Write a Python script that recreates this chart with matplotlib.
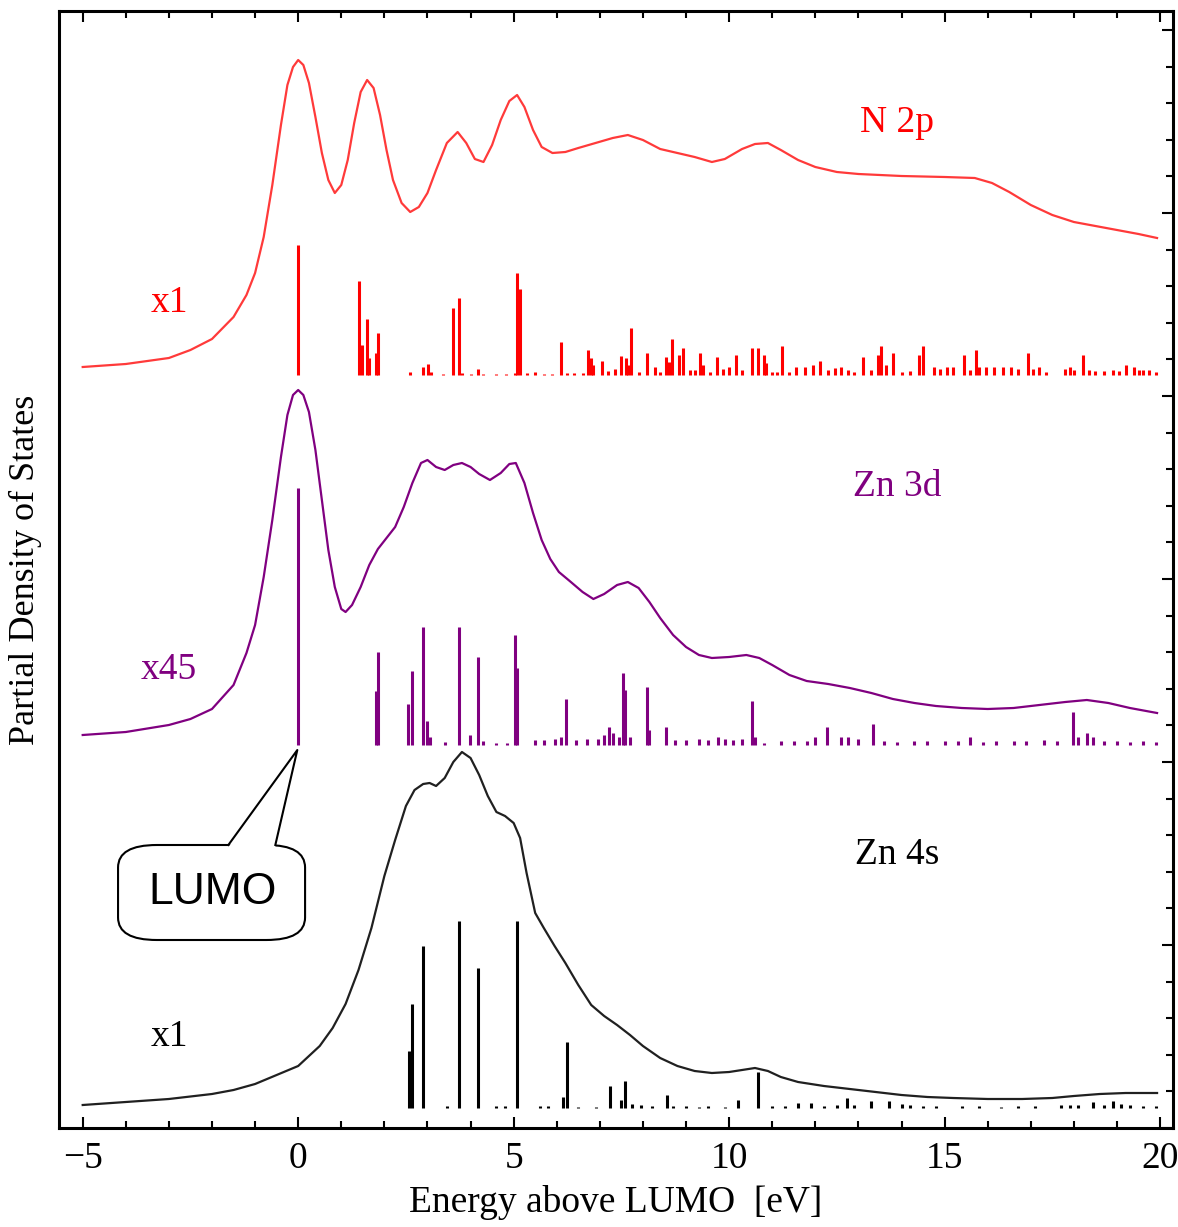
import numpy as np
import matplotlib
matplotlib.use("Agg")
import matplotlib.pyplot as plt
from matplotlib.patches import FancyBboxPatch, Polygon
from matplotlib.ticker import MultipleLocator

# ---- broadened PDOS curves (energy in eV, height above each panel's baseline) ----
n2p_E = [-5.0, -4.0, -3.0, -2.5, -2.0, -1.5, -1.2, -1.0, -0.8, -0.6, -0.4, -0.25,
         -0.12, 0.0, 0.12, 0.25, 0.4, 0.55, 0.7, 0.85, 1.0, 1.15, 1.3, 1.45, 1.6,
         1.75, 1.9, 2.05, 2.2, 2.4, 2.6, 2.8, 3.0, 3.2, 3.45, 3.7, 3.9, 4.1, 4.3,
         4.5, 4.7, 4.9, 5.08, 5.25, 5.45, 5.65, 5.9, 6.2, 6.5, 6.9, 7.3, 7.65, 8.0,
         8.4, 8.8, 9.2, 9.6, 9.9, 10.3, 10.6, 10.9, 11.2, 11.6, 12.0, 12.5, 13.0,
         14.0, 15.0, 15.7, 16.1, 16.5, 17.0, 17.5, 18.0, 18.5, 19.0, 19.5, 19.93]
n2p_y = [8, 11, 17, 25, 36, 58, 80, 102, 138, 190, 250, 290,
         308, 315, 310, 292, 258, 222, 195, 182, 190, 215, 252, 283, 295,
         287, 260, 225, 195, 172, 163, 168, 182, 205, 232, 243, 232, 216, 213,
         230, 255, 274, 280, 268, 245, 228, 222, 223, 227, 232, 237, 240, 235,
         226, 222, 218, 213, 216, 226, 231, 232, 225, 215, 208, 203, 201,
         199, 198, 197, 192, 183, 170, 160, 153, 149, 145, 141, 137]

zn3d_E = [-5.0, -4.0, -3.0, -2.5, -2.0, -1.5, -1.2, -1.0, -0.8, -0.6, -0.4, -0.25,
          -0.12, 0.0, 0.12, 0.25, 0.4, 0.55, 0.7, 0.85, 1.0, 1.1, 1.25, 1.45, 1.65,
          1.85, 2.05, 2.25, 2.45, 2.65, 2.85, 3.0, 3.2, 3.4, 3.6, 3.8, 4.0, 4.2,
          4.45, 4.7, 4.9, 5.05, 5.25, 5.45, 5.65, 5.85, 6.05, 6.3, 6.6, 6.85, 7.1,
          7.4, 7.65, 7.9, 8.15, 8.4, 8.7, 9.0, 9.3, 9.6, 10.0, 10.4, 10.7, 11.0,
          11.4, 11.8, 12.3, 12.8, 13.3, 13.8, 14.3, 14.8, 15.4, 16.0, 16.6, 17.2,
          17.8, 18.3, 18.8, 19.3, 19.93]
zn3d_y = [10, 13, 20, 26, 36, 60, 92, 120, 168, 225, 288, 330,
          350, 355, 350, 333, 295, 245, 195, 158, 136, 133, 140, 158, 180,
          196, 207, 218, 238, 262, 282, 285, 278, 275, 280, 282, 278, 271,
          265, 272, 281, 282, 262, 232, 205, 186, 173, 164, 153, 146, 151,
          160, 163, 157, 143, 127, 110, 98, 90, 87, 88, 90, 87, 80,
          70, 64, 61, 57, 52, 46, 42, 39, 37, 36, 37, 40,
          43, 45, 42, 37, 32]

zn4s_E = [-5.0, -4.0, -3.0, -2.0, -1.5, -1.0, -0.5, 0.0, 0.5, 0.8, 1.1, 1.4, 1.7,
          2.0, 2.25, 2.5, 2.7, 2.9, 3.05, 3.2, 3.4, 3.6, 3.8, 4.0, 4.2, 4.4, 4.6,
          4.8, 5.0, 5.15, 5.3, 5.5, 5.7, 5.95, 6.2, 6.5, 6.8, 7.1, 7.4, 7.7, 8.0,
          8.4, 8.8, 9.2, 9.6, 10.0, 10.3, 10.6, 10.9, 11.2, 11.6, 12.2, 12.8, 13.4,
          14.0, 14.6, 15.2, 16.0, 16.8, 17.5, 18.0, 18.6, 19.2, 19.93]
zn4s_y = [3, 6, 9, 14, 18, 24, 33, 42, 62, 80, 104, 138, 180,
          232, 268, 302, 318, 324, 325, 322, 330, 346, 356, 350, 333, 312, 296,
          292, 285, 270, 235, 195, 180, 162, 145, 123, 103, 92, 83, 73, 62,
          50, 42, 37, 35, 36, 38, 40, 37, 31, 26, 22, 19, 16,
          13, 11, 10, 9, 9, 10, 12, 14, 15, 15]

# ---- stick spectra (orbital energies and weights) ----
n2p_stick_E = [0.0, 1.42, 1.49, 1.6, 1.65, 1.81, 1.86, 2.6, 2.9, 3.02, 3.08, 3.36,
               3.6, 3.74, 3.8, 4.0, 4.18, 4.3, 4.6, 4.83, 5.03, 5.08, 5.15, 5.3, 5.5,
               5.7, 5.9, 6.1, 6.24, 6.4, 6.6, 6.73, 6.8, 6.85, 7.05, 7.2, 7.35, 7.5,
               7.6, 7.66, 7.73, 7.9, 8.1, 8.28, 8.4, 8.53, 8.6, 8.68, 8.84, 8.94,
               9.1, 9.2, 9.32, 9.4, 9.55, 9.71, 9.85, 10.0, 10.15, 10.3, 10.53, 10.66,
               10.8, 10.85, 11.0, 11.1, 11.23, 11.4, 11.55, 11.75, 11.95, 12.1, 12.3,
               12.45, 12.6, 12.75, 12.9, 13.1, 13.3, 13.45, 13.53, 13.65, 13.8, 14.0,
               14.2, 14.4, 14.51, 14.75, 14.9, 15.05, 15.2, 15.46, 15.6, 15.72, 15.8,
               15.95, 16.15, 16.35, 16.55, 16.7, 16.94, 17.05, 17.2, 17.35, 17.8,
               17.9, 18.0, 18.22, 18.35, 18.5, 18.7, 18.9, 19.05, 19.2, 19.4, 19.5,
               19.6, 19.75, 19.9]
n2p_stick_h = [130, 94, 30, 56, 17, 22, 42, 3, 8, 11, 3, 1,
               67, 77, 2, 1, 6, 1, 1, 1, 2, 102, 86, 2, 3,
               1, 1, 33, 2, 2, 2, 25, 17, 10, 14, 4, 6, 19,
               17, 10, 47, 3, 22, 8, 3, 18, 13, 36, 20, 27,
               5, 5, 22, 10, 3, 18, 6, 8, 20, 5, 27, 27,
               20, 12, 3, 3, 29, 3, 8, 8, 10, 14, 5,
               7, 8, 5, 3, 18, 5, 20, 29, 10, 22, 3,
               4, 20, 29, 8, 6, 8, 8, 20, 5, 25, 8,
               8, 8, 8, 8, 6, 22, 6, 8, 3, 6,
               8, 5, 20, 5, 4, 4, 5, 4, 10, 8, 5,
               5, 5, 3]

zn3d_stick_E = [0.0, 1.81, 1.86, 2.55, 2.64, 2.89, 3.0, 3.05, 3.4, 3.74, 3.99, 4.18,
                4.3, 4.6, 4.85, 5.04, 5.08, 5.5, 5.7, 5.95, 6.1, 6.22, 6.45, 6.7,
                6.95, 7.1, 7.22, 7.3, 7.45, 7.53, 7.59, 7.7, 8.09, 8.15, 8.54, 8.75,
                9.0, 9.3, 9.5, 9.75, 9.9, 10.1, 10.3, 10.53, 10.6, 10.8, 11.2, 11.5,
                11.8, 12.0, 12.27, 12.6, 12.75, 13.0, 13.34, 13.6, 13.9, 14.3, 14.6,
                15.0, 15.3, 15.6, 15.9, 16.2, 16.6, 16.9, 17.3, 17.6, 17.98, 18.1,
                18.3, 18.45, 18.7, 19.0, 19.3, 19.6, 19.9]
zn3d_stick_h = [257, 54, 93, 41, 74, 118, 24, 8, 3, 118, 10, 88,
                4, 2, 2, 110, 77, 5, 5, 6, 8, 46, 5, 6,
                6, 10, 18, 12, 8, 72, 55, 8, 58, 15, 18, 5,
                5, 6, 5, 8, 6, 5, 6, 44, 8, 2, 4, 4,
                4, 8, 18, 8, 8, 6, 21, 4, 3, 4, 4,
                4, 4, 8, 3, 4, 4, 4, 5, 4, 33, 8,
                12, 8, 4, 4, 3, 4, 3]

zn4s_stick_E = [2.58, 2.64, 2.89, 3.45, 3.74, 4.18, 4.6, 4.8, 5.07, 5.6, 5.8, 6.15,
                6.23, 6.5, 6.9, 7.24, 7.5, 7.59, 7.75, 7.95, 8.2, 8.55, 8.7, 9.0,
                9.3, 9.5, 9.9, 10.2, 10.66, 11.0, 11.3, 11.6, 11.9, 12.2, 12.5,
                12.73, 12.9, 13.3, 13.7, 14.0, 14.2, 14.5, 14.8, 15.4, 15.8, 16.3,
                16.7, 17.1, 17.7, 17.9, 18.1, 18.45, 18.7, 18.9, 19.1, 19.3, 19.6, 19.9]
zn4s_stick_h = [57, 104, 162, 2, 187, 140, 2, 2, 187, 2, 2, 11,
                66, 1, 1, 22, 8, 27, 4, 3, 2, 13, 2, 2,
                1, 2, 1, 8, 36, 2, 2, 5, 5, 2, 3,
                10, 3, 7, 7, 4, 3, 2, 2, 2, 2, 1,
                2, 2, 3, 3, 3, 6, 3, 7, 4, 3, 2, 2]

# layout: baselines in the axes' vertical units (1 unit ~ 1 pixel)
base_n2p, base_zn3d, base_zn4s = 753, 383, 20
red, purple, black = "#ff0000", "#800080", "#000000"

plt.rcParams["font.family"] = ["Liberation Serif", "DejaVu Serif"]

fig = plt.figure(figsize=(11.78, 12.27), dpi=100)
ax = fig.add_axes([59 / 1178, 99 / 1227, 1114 / 1178, 1117 / 1227])

series = [
    (n2p_E, n2p_y, n2p_stick_E, n2p_stick_h, base_n2p, "#ff3a3a", red),
    (zn3d_E, zn3d_y, zn3d_stick_E, zn3d_stick_h, base_zn3d, purple, purple),
    (zn4s_E, zn4s_y, zn4s_stick_E, zn4s_stick_h, base_zn4s, "#202020", black),
]
for cE, cy, sE, sh, base, ccol, scol in series:
    ax.plot(cE, np.array(cy) + base, color=ccol, lw=1.6, solid_joinstyle="round")
    ax.vlines(sE, base, np.array(sh) + base, color=scol, lw=2.2)

# panel labels
lab_kw = dict(fontsize=27, ha="center", va="center")
ax.text(13.9, 1005, "N 2p", color=red, **lab_kw)
ax.text(-3.0, 825, "x1", color=red, **lab_kw)
ax.text(13.9, 641, "Zn 3d", color=purple, **lab_kw)
ax.text(-3.0, 458, "x45", color=purple, **lab_kw)
ax.text(13.9, 273, "Zn 4s", color=black, **lab_kw)
ax.text(-3.0, 91, "x1", color=black, **lab_kw)

# LUMO callout
box = FancyBboxPatch((-4.18, 188), 4.34, 95, boxstyle="round,pad=0,rounding_size=0.9",
                     mutation_aspect=25, fc="white", ec="black", lw=1.5, zorder=5)
ax.add_patch(box)
ax.add_patch(Polygon([(-1.62, 281), (-0.02, 378), (-0.53, 281)], closed=True,
                     fc="white", ec="none", zorder=6))
ax.plot([-1.62, -0.02, -0.53], [283, 378, 283], color="black", lw=1.5, zorder=7)
ax.text(-1.98, 236, "LUMO", fontsize=32, family=["Liberation Sans", "DejaVu Sans"],
        ha="center", va="center", zorder=8)

ax.set_xlim(-5.55, 20.3)
ax.set_ylim(0, 1117)
ax.xaxis.set_major_locator(MultipleLocator(5))
ax.xaxis.set_minor_locator(MultipleLocator(1))
ax.yaxis.set_major_locator(MultipleLocator(183))
ax.yaxis.set_minor_locator(MultipleLocator(36.6))
ax.tick_params(which="both", direction="in", top=True, right=True, left=False,
               labelleft=False, width=1.5)
ax.tick_params(which="major", length=8, labelsize=27, pad=10)
ax.tick_params(which="minor", length=5)
ax.set_xticks([-5, 0, 5, 10, 15, 20])
ax.set_xticklabels(["\u22125", "0", "5", "10", "15", "20"])
for sp in ax.spines.values():
    sp.set_linewidth(2.2)

ax.set_xlabel("Energy above LUMO  [eV]", fontsize=27, labelpad=6)
ax.set_ylabel("Partial Density of States", fontsize=26, labelpad=12)

fig.savefig("out.png", dpi=100)
